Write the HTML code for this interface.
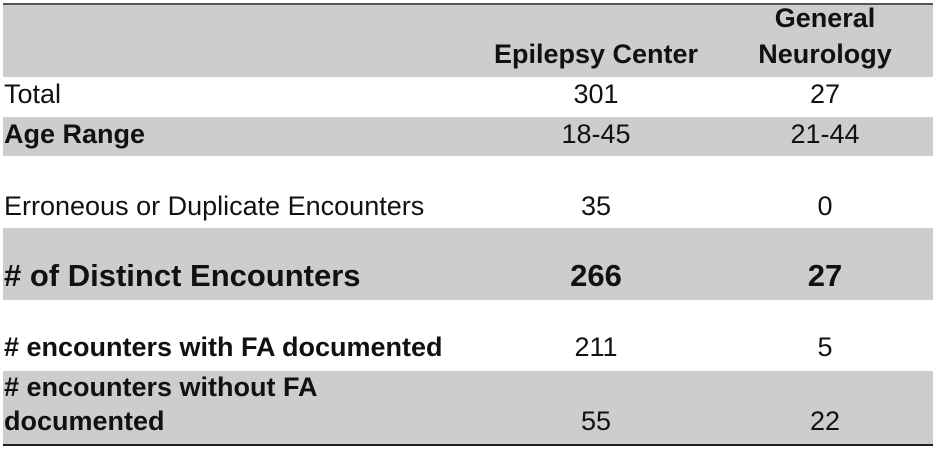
<!DOCTYPE html>
<html><head><meta charset="utf-8"><style>
body{margin:0;width:936px;height:451px;background:#fff;position:relative;overflow:hidden;font-family:"Liberation Sans",sans-serif;color:#111}
.g{position:absolute;left:3px;width:930px;background:#cdcdcd}
.t{position:absolute;font-size:27px;line-height:27px;white-space:nowrap}
.c1{width:300px;left:446px;text-align:center}
.c2{width:200px;left:725px;text-align:center}
.b{font-weight:bold}
.big{font-size:31px;line-height:31px}
</style></head><body>
<div style="position:absolute;left:3px;top:3px;width:930px;height:2px;background:#555"></div>
<div class="g" style="top:5px;height:72px"></div>
<div class="g" style="top:117px;height:39px"></div>
<div class="g" style="top:228px;height:72px"></div>
<div class="g" style="top:371px;height:73px"></div>
<div style="position:absolute;left:3px;top:444px;width:930px;height:2px;background:#222"></div>

<div class="t b c1" style="top:41px">Epilepsy Center</div>
<div class="t b c2" style="top:5px">General</div>
<div class="t b c2" style="top:41px">Neurology</div>

<div class="t" style="left:4px;top:81px">Total</div>
<div class="t c1" style="top:81px">301</div>
<div class="t c2" style="top:81px">27</div>

<div class="t b" style="left:4px;top:121px">Age Range</div>
<div class="t c1" style="top:121px">18-45</div>
<div class="t c2" style="top:121px">21-44</div>

<div class="t" style="left:4px;top:193px">Erroneous or Duplicate Encounters</div>
<div class="t c1" style="top:193px">35</div>
<div class="t c2" style="top:193px">0</div>

<div class="t b big" style="left:4px;top:260px">&#35; of Distinct Encounters</div>
<div class="t b c1 big" style="top:260px">266</div>
<div class="t b c2 big" style="top:260px">27</div>

<div class="t b" style="left:4px;top:334px">&#35; encounters with FA documented</div>
<div class="t c1" style="top:334px">211</div>
<div class="t c2" style="top:334px">5</div>

<div class="t b" style="left:4px;top:374px">&#35; encounters without FA</div>
<div class="t b" style="left:4px;top:408px">documented</div>
<div class="t c1" style="top:408px">55</div>
<div class="t c2" style="top:408px">22</div>
</body></html>
